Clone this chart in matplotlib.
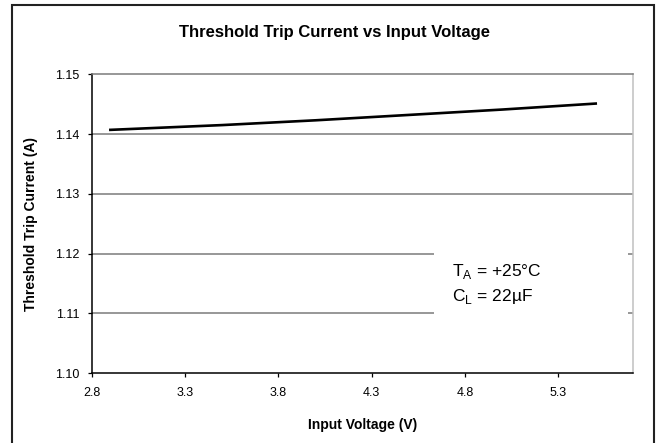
import matplotlib
matplotlib.use('Agg')
import matplotlib.pyplot as plt
from matplotlib.patches import Rectangle

# ── Data ──────────────────────────────────────────────────────────────────────
voltage = [2.9, 3.5, 4.0, 4.5, 5.0, 5.5]
current = [1.1407, 1.1415, 1.1423, 1.1432, 1.1441, 1.1451]
x_ticks = [2.8, 3.3, 3.8, 4.3, 4.8, 5.3]
y_ticks = [1.10, 1.11, 1.12, 1.13, 1.14, 1.15]

plt.rcParams['font.family'] = ['Liberation Sans', 'DejaVu Sans']
plt.rcParams['mathtext.fontset'] = 'custom'
plt.rcParams['mathtext.rm'] = 'Liberation Sans'

fig = plt.figure(figsize=(6.56, 4.43), dpi=100)
fig.patch.set_facecolor('white')

# outer frame
fig.patches.append(Rectangle((0.0183, -0.02), 0.9787, 1.0098,
                             transform=fig.transFigure, fill=False,
                             edgecolor='#222222', linewidth=1.5))

ax = fig.add_axes([0.1398, 0.158, 0.8252, 0.6743])
ax.set_xlim(2.8, 5.7)
ax.set_ylim(1.10, 1.15)

# gridlines
for y in y_ticks[1:-1]:
    ax.axhline(y, color='#7a7a7a', linewidth=1.1, zorder=1)

ax.plot(voltage, current, color='black', linewidth=1.9, zorder=3)

ax.set_xticks(x_ticks)
ax.set_xticklabels([f'{v:.1f}' for v in x_ticks])
ax.set_yticks(y_ticks)
ax.set_yticklabels([f'{v:.2f}' for v in y_ticks])
ax.tick_params(axis='both', direction='out', length=3, width=0.9,
               labelsize=9, color='black')
ax.tick_params(axis='x', pad=7)
ax.tick_params(axis='y', pad=6)

ax.spines['left'].set_color('black')
ax.spines['bottom'].set_color('black')
ax.spines['left'].set_linewidth(1.1)
ax.spines['bottom'].set_linewidth(1.1)
ax.spines['top'].set_color('#7a7a7a')
ax.spines['top'].set_linewidth(1.1)
ax.spines['right'].set_color('#c0c0c0')
ax.spines['right'].set_linewidth(1.1)

ax.set_xlabel('Input Voltage (V)', fontsize=10, fontweight='bold')
ax.xaxis.set_label_coords(0.5, -0.15)
ax.set_ylabel('Threshold Trip Current (A)', fontsize=10, fontweight='bold')
ax.yaxis.set_label_coords(-0.1, 0.5)

# annotation box covering gridlines
ax.add_patch(Rectangle((0.632, 0.144), 0.359, 0.30, transform=ax.transAxes,
                       facecolor='white', edgecolor='none', zorder=2))
ax.text(0.666, 0.339, 'T$_\\mathrm{A}$ = +25°C', transform=ax.transAxes,
        fontsize=12.5, ha='left', va='center', zorder=4)
ax.text(0.666, 0.255, 'C$_\\mathrm{L}$ = 22µF', transform=ax.transAxes,
        fontsize=12.5, ha='left', va='center', zorder=4)

fig.text(0.51, 0.926, 'Threshold Trip Current vs Input Voltage',
         ha='center', va='center', fontsize=12, fontweight='bold')

fig.savefig('out.png', dpi=100)
